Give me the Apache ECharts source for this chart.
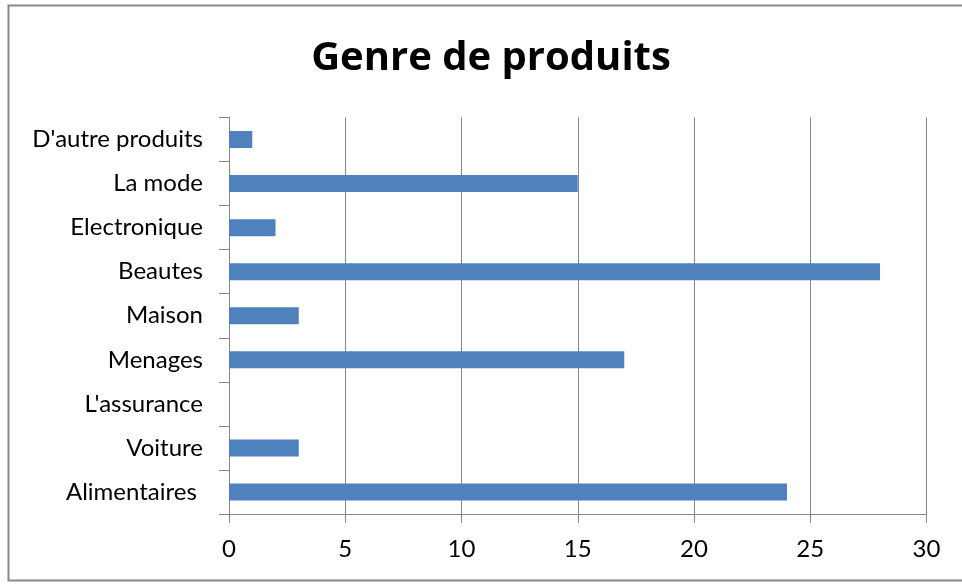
<!DOCTYPE html>
<html><head><meta charset="utf-8">
<script src="https://cdn.jsdelivr.net/npm/echarts@6/dist/echarts.min.js"></script>
<style>html,body{margin:0;padding:0;background:#fff}#c{width:962px;height:584px}</style>
</head><body><div id="c"></div>
<script>
const categories = ["Alimentaires ", "Voiture", "L'assurance", "Menages", "Maison", "Beautes", "Electronique", "La mode", "D'autre produits"];
const values = [24, 3, 0, 17, 3, 28, 2, 15, 1];
const xTicks = [0, 5, 10, 15, 20, 25, 30];
const titleText = "Genre de produits";

const chart = echarts.init(document.getElementById('c'), null, {renderer: 'canvas'});
chart.setOption({
  animation: false,
  backgroundColor: '#fff',
  title: {
    text: titleText, left: 486, top: 34, textAlign: 'center',
    textStyle: {fontFamily: 'Open Sans', fontWeight: 'bold', fontSize: 40, color: '#000'}
  },
  graphic: [{
    type: 'rect', shape: {x: 8.5, y: 5.5, width: 1000, height: 575},
    style: {fill: 'none', stroke: '#888', lineWidth: 2}
  }],
  grid: {left: 229, right: 35.5, top: 117.5, bottom: 70, containLabel: false},
  xAxis: {
    type: 'value', min: xTicks[0], max: xTicks[xTicks.length - 1], interval: 5,
    axisLine: {show: true, lineStyle: {color: '#868686', width: 1}},
    axisTick: {show: true, length: 9, lineStyle: {color: '#868686'}},
    splitLine: {show: true, lineStyle: {color: '#868686', width: 1}},
    axisLabel: {fontFamily: 'Lato', fontSize: 24, color: '#000', margin: 23}
  },
  yAxis: {
    type: 'category', data: categories,
    axisLine: {show: true, lineStyle: {color: '#868686', width: 1}},
    axisTick: {show: true, length: 10, lineStyle: {color: '#868686'}},
    axisLabel: {fontFamily: 'Lato', fontSize: 24, color: '#000', margin: 26}
  },
  series: [{
    type: 'bar', data: values, barWidth: 17,
    itemStyle: {color: '#4F81BD'}
  }]
});
</script></body></html>
